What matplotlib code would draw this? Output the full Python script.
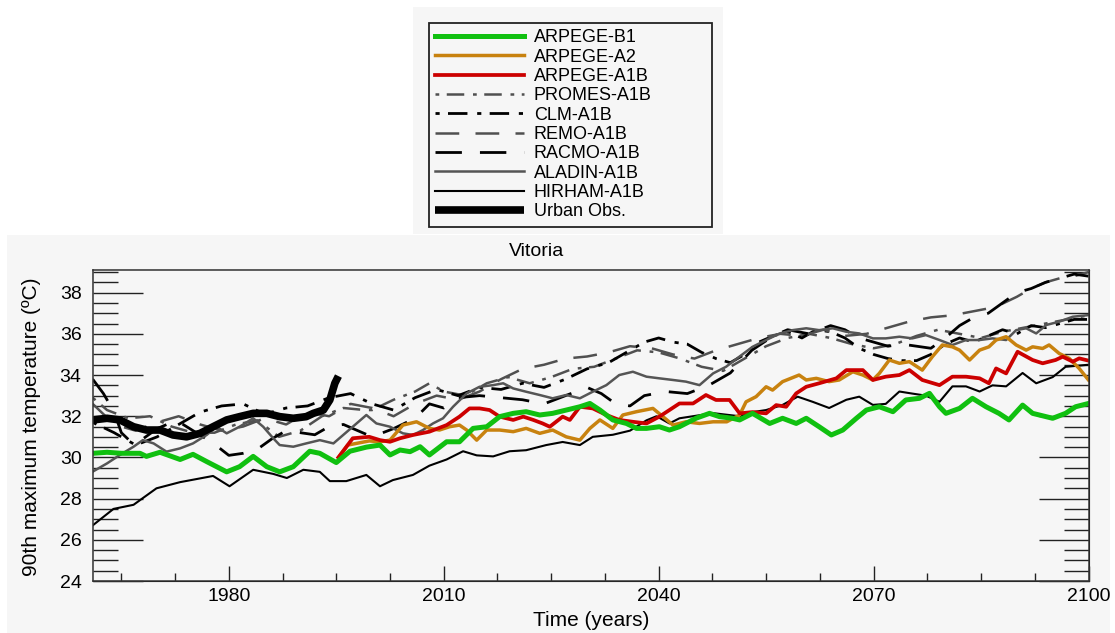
import matplotlib
matplotlib.use('Agg')
import matplotlib.pyplot as plt
from matplotlib.patches import Rectangle
from matplotlib.ticker import MultipleLocator, FixedLocator

plt.rcParams['font.family'] = ['Liberation Sans', 'DejaVu Sans']

# ---- data ----
hirham_yr = [1961, 1963.9, 1966.7, 1969.9, 1973.2, 1977.8, 1980.1, 1983.4, 1986.2, 1988.1, 1990.4, 1992.7,
             1994.1, 1996.4, 1999.2, 2001.1, 2002.9, 2005.7, 2008.0, 2010.4, 2012.7, 2014.6, 2016.9, 2019.2,
             2021.5, 2024.3, 2026.6, 2029.0, 2030.8, 2033.6, 2036.0, 2038.3, 2039.7, 2041.5, 2042.9, 2047.6,
             2051.3, 2053.1, 2055.0, 2057.3, 2059.4, 2061.5, 2063.8, 2066.2, 2068.0, 2069.9, 2071.7, 2073.6,
             2075.4, 2077.3, 2079.2, 2081.0, 2082.9, 2084.8, 2086.6, 2088.5, 2090.8, 2092.7, 2095.0, 2096.8, 2100]
hirham_val = [26.7, 27.5, 27.7, 28.5, 28.8, 29.1, 28.6, 29.4, 29.2, 29.0, 29.4, 29.3,
              28.85, 28.85, 29.15, 28.6, 28.9, 29.15, 29.6, 29.9, 30.3, 30.1, 30.05, 30.3,
              30.35, 30.6, 30.75, 30.6, 31.0, 31.1, 31.3, 31.8, 32.0, 31.65, 31.9, 32.15,
              32.0, 32.2, 32.3, 32.55, 32.95, 32.7, 32.4, 32.8, 32.95, 32.55, 32.6, 33.2,
              33.1, 33.0, 32.7, 33.45, 33.45, 33.2, 33.5, 33.45, 34.1, 33.6, 33.9, 34.4, 34.5]

b1_yr = [1961, 1963.0, 1965.0, 1967.6, 1968.5, 1970.4, 1973.2, 1975.0, 1976.9, 1979.7, 1981.5, 1983.4,
         1985.3, 1987.1, 1989.0, 1991.3, 1992.7, 1995.0, 1996.9, 1999.2, 2001.1, 2002.5, 2003.9, 2005.3,
         2006.7, 2008.0, 2010.4, 2012.2, 2014.1, 2016.0, 2017.8, 2019.7, 2021.5, 2023.4, 2025.2, 2027.1,
         2029.0, 2030.4, 2031.8, 2033.6, 2035.5, 2036.9, 2038.3, 2040.1, 2041.5, 2042.9, 2045.2, 2047.1,
         2048.5, 2050.3, 2051.3, 2053.1, 2055.5, 2057.3, 2059.2, 2060.6, 2062.4, 2064.1, 2065.7, 2067.6,
         2069.0, 2070.8, 2072.7, 2074.5, 2076.4, 2077.8, 2079.2, 2080.1, 2082.0, 2083.8, 2085.7, 2087.5,
         2088.9, 2090.8, 2092.2, 2095.0, 2096.8, 2098.2, 2100]
b1_val = [30.2, 30.25, 30.2, 30.2, 30.05, 30.25, 29.9, 30.15, 29.8, 29.3, 29.55, 30.05,
          29.55, 29.3, 29.55, 30.3, 30.2, 29.75, 30.3, 30.5, 30.6, 30.12, 30.36, 30.28,
          30.52, 30.12, 30.76, 30.76, 31.41, 31.49, 31.98, 32.14, 32.22, 32.06, 32.14, 32.3,
          32.46, 32.62, 32.3, 31.82, 31.65, 31.41, 31.41, 31.49, 31.33, 31.49, 31.9, 32.14,
          31.98, 31.9, 31.82, 32.14, 31.65, 31.9, 31.65, 31.9, 31.49, 31.09, 31.33, 31.9,
          32.3, 32.46, 32.22, 32.79, 32.87, 33.11, 32.46, 32.14, 32.38, 32.87, 32.46, 32.14,
          31.82, 32.54, 32.14, 31.9, 32.14, 32.46, 32.62]

a1b_yr = [1995.3, 1997.3, 1999.6, 2001.1, 2002.5, 2003.9, 2005.7, 2008.0, 2010.4, 2012.2, 2013.6, 2015.0,
          2016.4, 2017.8, 2019.7, 2021.1, 2022.5, 2023.8, 2024.8, 2026.6, 2027.6, 2029.0, 2030.8, 2032.7,
          2034.5, 2036.4, 2038.3, 2040.1, 2041.5, 2042.9, 2044.8, 2046.6, 2048.0, 2049.9, 2051.3, 2053.1,
          2055.0, 2056.4, 2057.8, 2059.2, 2060.6, 2062.4, 2064.8, 2066.2, 2068.5, 2069.9, 2071.7, 2073.6,
          2075.0, 2076.8, 2079.2, 2081.0, 2082.9, 2084.8, 2086.1, 2087.1, 2088.5, 2090.1, 2092.2, 2093.6,
          2095.4, 2096.4, 2097.8, 2098.7, 2100]
a1b_val = [30.0, 30.93, 31.0, 30.84, 30.76, 30.93, 31.09, 31.25, 31.57, 31.98, 32.38, 32.38,
           32.3, 31.98, 31.82, 31.98, 31.82, 31.65, 31.49, 31.98, 31.82, 32.46, 32.38, 32.06,
           31.82, 31.73, 31.65, 31.98, 32.3, 32.62, 32.62, 33.03, 32.79, 32.79, 32.14, 32.2,
           32.14, 32.54, 32.46, 33.11, 33.43, 33.6, 33.84, 34.24, 34.24, 33.76, 33.92, 34.0,
           34.24, 33.76, 33.51, 33.92, 33.92, 33.84, 33.6, 34.32, 34.08, 35.13, 34.73, 34.57,
           34.73, 34.89, 34.65, 34.81, 34.7]

a2_yr = [1995.3, 1996.6, 1999.6, 2001.1, 2002.5, 2004.3, 2006.2, 2008.0, 2009.4, 2010.8, 2012.2, 2013.2,
         2014.6, 2016.0, 2017.8, 2019.7, 2021.5, 2023.4, 2025.2, 2027.1, 2029.0, 2030.4, 2031.8, 2033.6,
         2035.0, 2036.9, 2039.2, 2040.6, 2042.0, 2043.8, 2045.7, 2047.6, 2049.5, 2051.3, 2052.2, 2053.6,
         2055.0, 2055.9, 2057.3, 2059.6, 2060.6, 2062.0, 2063.8, 2065.2, 2067.1, 2068.5, 2069.9, 2070.8,
         2072.2, 2073.6, 2075.0, 2076.8, 2078.2, 2079.6, 2081.0, 2082.0, 2083.4, 2084.8, 2086.1, 2087.1,
         2088.5, 2089.9, 2091.3, 2092.2, 2093.6, 2094.5, 2095.9, 2097.3, 2098.7, 2100]
a2_val = [30.0, 30.6, 30.8, 30.76, 30.84, 31.57, 31.73, 31.41, 31.33, 31.49, 31.57, 31.33,
          30.84, 31.33, 31.33, 31.25, 31.41, 31.17, 31.33, 31.0, 30.84, 31.41, 31.82, 31.41,
          32.06, 32.22, 32.38, 31.98, 31.57, 31.73, 31.65, 31.73, 31.73, 32.06, 32.7, 32.95,
          33.43, 33.27, 33.68, 34.0, 33.76, 33.84, 33.68, 33.76, 34.16, 34.0, 33.76, 34.08,
          34.73, 34.57, 34.65, 34.24, 34.89, 35.46, 35.37, 35.21, 34.73, 35.21, 35.37, 35.7,
          35.86, 35.46, 35.21, 35.37, 35.29, 35.46, 35.05, 34.81, 34.32, 33.76]

obs_yr = [1961, 1963.0, 1964.8, 1966.7, 1968.5, 1970.4, 1972.2, 1974.1, 1976.0, 1977.8, 1979.7,
          1981.5, 1983.4, 1985.3, 1987.1, 1989.0, 1990.8, 1991.8, 1993.2, 1994.1, 1994.8, 1995.3]
obs_val = [31.82, 31.9, 31.82, 31.49, 31.33, 31.33, 31.09, 31.0, 31.17, 31.49, 31.82,
           31.98, 32.14, 32.14, 31.98, 31.9, 31.98, 32.14, 32.3, 32.79, 33.6, 33.95]

aladin_yr = [1961, 1963.0, 1964.8, 1966.7, 1968.0, 1969.5, 1971.3, 1973.2, 1975.0, 1976.9, 1978.3, 1979.7,
             1981.5, 1983.4, 1984.8, 1986.2, 1987.1, 1989.0, 1990.8, 1992.7, 1994.6, 1997.3, 1999.2, 2000.6,
             2002.5, 2004.3, 2005.7, 2007.1, 2008.5, 2009.9, 2011.3, 2013.2, 2015.0, 2016.9, 2018.3, 2019.7,
             2021.5, 2023.4, 2025.2, 2027.1, 2029.0, 2030.8, 2032.7, 2034.5, 2036.4, 2038.3, 2040.1, 2042.0,
             2043.8, 2045.7, 2047.6, 2049.4, 2051.3, 2053.1, 2055.0, 2056.9, 2058.7, 2060.6, 2062.4, 2064.3,
             2066.2, 2068.0, 2069.9, 2071.7, 2073.6, 2075.4, 2077.3, 2079.2, 2081.0, 2082.9, 2084.8, 2086.6,
             2088.5, 2089.9, 2091.3, 2092.7, 2094.1, 2095.9, 2097.8, 2100]
aladin_val = [29.31, 29.71, 30.12, 30.52, 30.84, 30.68, 30.28, 30.44, 30.68, 31.09, 31.49, 31.17,
              31.49, 31.9, 31.49, 30.93, 30.6, 30.52, 30.68, 30.84, 30.68, 31.49, 32.06, 31.65,
              31.49, 31.17, 31.09, 31.33, 31.65, 31.9, 32.46, 33.11, 33.43, 33.51, 33.6, 33.35,
              33.19, 33.03, 32.87, 33.03, 32.87, 33.19, 33.51, 34.0, 34.16, 33.92, 33.84, 33.76,
              33.68, 33.51, 34.08, 34.4, 34.9, 35.37, 35.7, 36.02, 36.18, 36.27, 36.18, 36.27,
              36.1, 36.02, 35.78, 35.78, 35.86, 35.78, 35.94, 35.7, 35.46, 35.7, 35.7, 35.78,
              35.7, 36.18, 36.27, 36.02, 36.43, 36.59, 36.83, 36.91]

racmo_yr = [1961, 1962.5, 1964, 1965, 1966.5, 1968, 1970, 1972.7, 1975, 1977.8, 1980, 1982, 1984, 1986,
            1988, 1990, 1992, 1994, 1996, 1998, 2000, 2003, 2006, 2008, 2010, 2012, 2015, 2018, 2021,
            2024, 2027, 2030, 2032, 2034, 2036, 2038, 2041, 2044, 2047, 2050, 2053, 2056, 2058, 2061,
            2064, 2066, 2068, 2070, 2072, 2074, 2076, 2078, 2080, 2082, 2084, 2086, 2088, 2090, 2092,
            2094, 2096, 2098, 2100]
racmo_val = [33.8, 33.1, 32.2, 31.2, 30.7, 30.9, 31.4, 31.8, 31.3, 30.7, 30.1, 30.2, 30.4, 30.9,
             31.3, 31.2, 31.1, 31.5, 31.6, 31.3, 31.0, 31.4, 31.9, 32.6, 32.4, 32.9, 33.0, 32.9, 32.8,
             32.6, 33.0, 33.4, 33.1, 32.6, 32.5, 33.0, 33.2, 33.1, 33.5, 34.1, 35.2, 35.9, 36.2, 36.0,
             36.4, 36.2, 35.8, 35.6, 35.4, 35.5, 35.4, 35.3, 35.8, 36.4, 36.8, 37.0, 37.5, 38.0, 38.2,
             38.5, 38.7, 38.9, 38.8]

clm_yr = [1961, 1964, 1967, 1970, 1973, 1976, 1979, 1982, 1985, 1988, 1991, 1994, 1997, 2000, 2003,
          2006, 2009, 2012, 2015, 2018, 2021, 2024, 2027, 2030, 2033, 2036, 2038, 2040, 2042, 2044,
          2046, 2048, 2050, 2052, 2054, 2056, 2058, 2060, 2062, 2064, 2066, 2068, 2070, 2072, 2074,
          2076, 2078, 2080, 2082, 2084, 2086, 2088, 2090, 2092, 2094, 2096, 2098, 2100]
clm_val = [31.7, 31.2, 30.6, 31.0, 31.6, 32.2, 32.5, 32.6, 32.1, 32.4, 32.5, 32.9, 33.1, 32.6, 32.3,
           32.9, 33.3, 33.0, 33.4, 33.3, 33.6, 33.4, 33.8, 34.3, 34.6, 35.2, 35.6, 35.8, 35.6, 35.5,
           35.1, 34.8, 34.6, 35.0, 35.6, 35.9, 36.1, 35.8, 36.2, 36.1, 35.8, 35.3, 35.0, 34.8, 34.7,
           34.7, 35.0, 35.5, 35.8, 35.6, 35.9, 36.2, 36.0, 36.4, 36.3, 36.5, 36.7, 36.7]

remo_yr = [1961, 1964, 1967, 1970, 1973, 1976, 1979, 1982, 1985, 1988, 1991, 1994, 1997, 2000, 2003,
           2006, 2009, 2012, 2015, 2018, 2021, 2024, 2027, 2030, 2033, 2036, 2039, 2042, 2045, 2048,
           2051, 2054, 2057, 2060, 2063, 2066, 2069, 2072, 2075, 2078, 2081, 2084, 2087, 2090, 2092,
           2094, 2096, 2098, 2100]
remo_val = [32.6, 31.6, 31.3, 31.7, 32.0, 31.6, 31.3, 31.5, 31.9, 31.6, 32.2, 32.0, 32.6, 32.4, 32.0,
            32.6, 33.0, 32.8, 33.2, 33.8, 34.3, 34.5, 34.8, 34.9, 35.1, 35.4, 35.3, 35.0, 34.8, 35.2,
            35.5, 35.8, 36.0, 35.9, 36.2, 35.9, 36.0, 36.3, 36.6, 36.8, 36.9, 37.1, 37.3, 37.8, 38.2,
            38.5, 38.7, 38.8, 39.0]

promes_yr = [1961, 1963, 1966, 1969, 1972, 1975, 1978, 1981, 1984, 1987, 1990, 1993, 1996, 1999, 2000,
             2003, 2006, 2008, 2010, 2013, 2016, 2019, 2022, 2025, 2028, 2031, 2034, 2037, 2040, 2043,
             2046, 2049, 2052, 2055, 2058, 2061, 2064, 2067, 2070, 2073, 2076, 2079, 2082, 2085, 2088,
             2091, 2094, 2097, 2100]
promes_val = [32.9, 32.3, 31.9, 32.0, 31.5, 31.2, 31.2, 31.6, 31.8, 31.0, 31.3, 32.0, 32.4, 32.3, 32.3,
              32.8, 33.2, 33.6, 33.2, 33.0, 33.6, 33.9, 33.6, 33.9, 34.3, 34.4, 34.8, 35.2, 35.1, 34.8,
              34.4, 34.2, 34.8, 35.4, 35.8, 36.0, 35.8, 35.5, 35.3, 35.5, 35.9, 36.2, 36.0, 35.8, 36.1,
              36.3, 36.5, 36.7, 36.9]

# ---- figure ----
W, H = 1115, 633
fig = plt.figure(figsize=(W / 100, H / 100), dpi=100, facecolor='white')
panel = '#f6f6f6'
fig.patches.append(Rectangle((413 / W, 1 - 234 / H), 310 / W, 227 / H, transform=fig.transFigure,
                             facecolor=panel, edgecolor='none', zorder=-10))
fig.patches.append(Rectangle((7 / W, 0), 1103 / W, 1 - 235 / H, transform=fig.transFigure,
                             facecolor=panel, edgecolor='none', zorder=-10))

ax = fig.add_axes([92.7 / W, 1 - 581 / H, 995.8 / W, 311 / H])
ax.set_facecolor(panel)

grey = '#505050'
l_promes, = ax.plot(promes_yr, promes_val, color=grey, lw=1.8, dashes=(1.5, 3, 7, 3.5), label='PROMES-A1B')
l_clm, = ax.plot(clm_yr, clm_val, color='black', lw=2.0, dashes=(1.5, 3, 7, 3.5), label='CLM-A1B')
l_remo, = ax.plot(remo_yr, remo_val, color=grey, lw=1.8, dashes=(9.5, 6.5), label='REMO-A1B')
l_racmo, = ax.plot(racmo_yr, racmo_val, color='black', lw=2.0, dashes=(9.5, 6.5), label='RACMO-A1B')
l_hirham, = ax.plot(hirham_yr, hirham_val, color='black', lw=1.5, label='HIRHAM-A1B')
l_aladin, = ax.plot(aladin_yr, aladin_val, color='#555555', lw=1.8, label='ALADIN-A1B')
l_a2, = ax.plot(a2_yr, a2_val, color='#c8820f', lw=2.5, label='ARPEGE-A2')
l_a1b, = ax.plot(a1b_yr, a1b_val, color='#cc0000', lw=2.7, label='ARPEGE-A1B')
l_b1, = ax.plot(b1_yr, b1_val, color='#10c010', lw=3.6, label='ARPEGE-B1')
l_obs, = ax.plot(obs_yr, obs_val, color='black', lw=5.5, solid_capstyle='butt', label='Urban Obs.')

ax.set_xlim(1961, 2100)
ax.set_ylim(24, 39.1)

ax.xaxis.set_major_locator(FixedLocator([1980, 2010, 2040, 2070, 2100]))
ax.xaxis.set_minor_locator(MultipleLocator(7.5))
ax.yaxis.set_major_locator(MultipleLocator(2))
ax.yaxis.set_minor_locator(MultipleLocator(0.5))

ax.tick_params(axis='x', which='both', direction='in', top=False, bottom=True, width=1, color='#222222')
ax.tick_params(axis='x', which='major', length=10.8, pad=5, labelsize=14)
ax.tick_params(axis='x', which='minor', length=5.8)
ax.tick_params(axis='y', which='both', direction='in', left=True, right=True, width=1, color='#222222')
ax.tick_params(axis='y', which='major', length=36, pad=8, labelsize=14)
ax.tick_params(axis='y', which='minor', length=18)
for s in ax.spines.values():
    s.set_linewidth(1.1)
    s.set_color('#333333')

# top axis has its own tick spacing
top = ax.twiny()
top.set_xlim(0, 1)
top.xaxis.set_major_locator(FixedLocator([0.0532 + 0.1951 * k for k in range(5)]))
top.xaxis.set_minor_locator(FixedLocator([0.0532 + 0.01951 * k for k in range(-2, 49)]))
top.tick_params(axis='x', which='both', direction='in', labeltop=False, width=1, color='#222222')
top.tick_params(axis='x', which='major', length=11.5)
top.tick_params(axis='x', which='minor', length=5.8)
top.set_zorder(ax.get_zorder() - 1)

fig.text(537 / W, 1 - 252 / H, 'Vitoria', ha='center', va='center', fontsize=14)
fig.text(591 / W, 1 - 621 / H, 'Time (years)', ha='center', va='center', fontsize=15)
fig.text(32 / W, 1 - 427 / H, '90th maximum temperature (ºC)', ha='center', va='center',
         rotation=90, fontsize=15)

handles = [l_b1, l_a2, l_a1b, l_promes, l_clm, l_remo, l_racmo, l_aladin, l_hirham, l_obs]
leg = fig.legend(handles, [h.get_label() for h in handles], loc='upper left',
                 bbox_to_anchor=(429 / W, 1 - 228 / H, 283 / W, 205 / H), bbox_transform=fig.transFigure,
                 mode='expand', borderaxespad=0, fontsize=13, handlelength=4.9, handletextpad=0.55,
                 labelspacing=0.13, borderpad=0.35, fancybox=False, framealpha=1,
                 facecolor=panel, edgecolor='#222222')
leg.get_frame().set_linewidth(1.3)

fig.savefig('out.png', dpi=100, facecolor='white')
